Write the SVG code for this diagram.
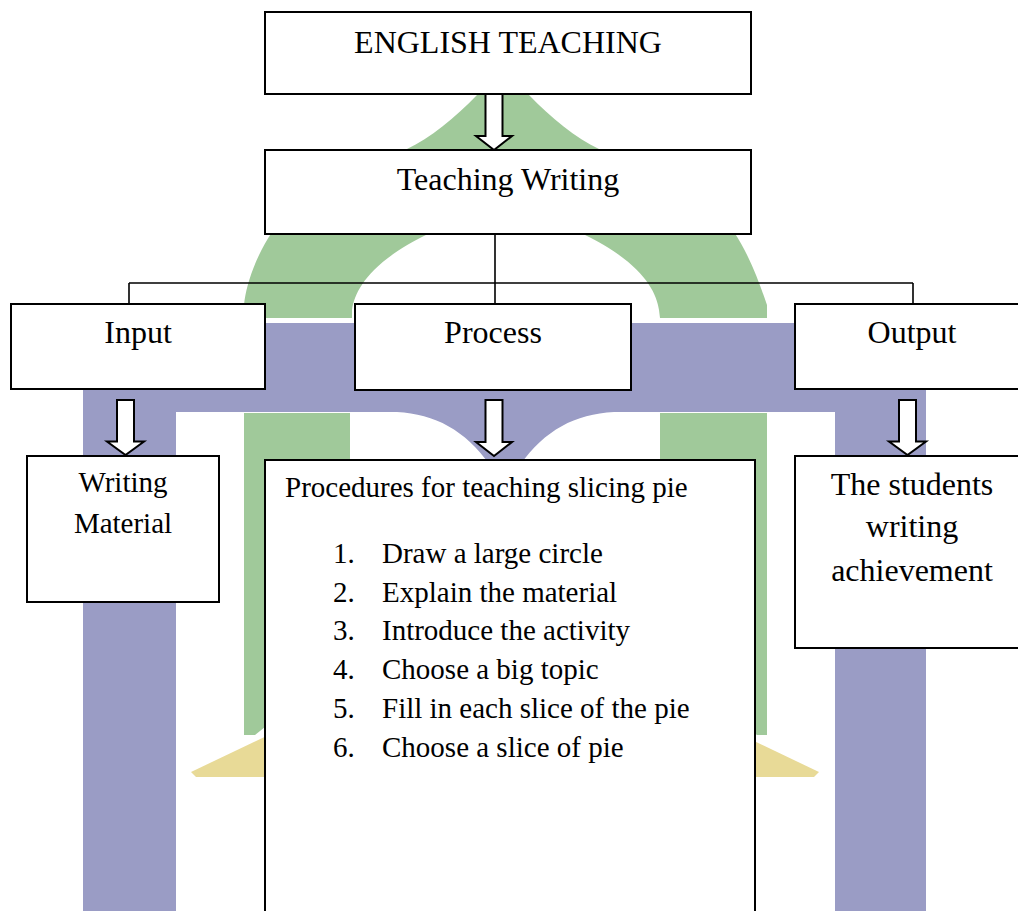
<svg xmlns="http://www.w3.org/2000/svg" width="1018" height="911" viewBox="0 0 1018 911">
<style>
.box{fill:#fff;stroke:#000;stroke-width:2}
.line{fill:none;stroke:#000;stroke-width:1.6}
.arrow{fill:#fff;stroke:#000;stroke-width:2;stroke-linejoin:miter}
.t{font-family:"Liberation Serif","Times New Roman",serif;fill:#000}
.h{font-size:32px;text-anchor:middle}
.m{font-size:29px}
.mc{font-size:29px;text-anchor:middle}
.g{fill:#A0C99A}
.p{fill:#9A9CC5}
.y{fill:#E8DA97}
</style>
<rect width="1018" height="911" fill="#fff"/>
<g id="watermark">
  <path class="g" fill-rule="evenodd" d="M244,318 L244,305 C246,285 255,258 272,232 C300,195 350,170 407,149 C430,138 455,118 477,95 L503,64 L529,95 C551,118 576,138 599,149 C656,170 706,195 734,232 C751,258 760,285 767,305 L767,318 L660,318 L659,310 C656,290 641,262 583,234 C550,215 520,200 505,185 C490,200 460,215 428,234 C370,262 355,290 352,310 L352,318 Z"/>
  <path class="p" d="M83,323 H926 V911 H835 V412 H614 C575,414 545,430 520,465 L505,490 L490,465 C465,430 435,414 397,412 H176 V911 H83 Z"/>
  <path class="g" d="M244,413 H350 V700 L265,727 L255,735 H244 Z"/>
  <path class="g" d="M767,413 H660 V700 L745,727 L757,735 H767 Z"/>
  <path class="y" d="M191,772 L300,720 V777 H196 Z"/>
  <path class="y" d="M819,772 L710,720 V777 H814 Z"/>
</g>
<g id="connectors">
  <path class="line" d="M495,234 V304 M129,283 H913 M129,283 V304 M913,283 V304"/>
  <path class="arrow" d="M485.5,94 H502.5 V136 H512 L494,150 L476,136 H485.5 Z"/>
  <path class="arrow" d="M117,400 H134 V441.5 H144 L125.5,455 L107,441.5 H117 Z"/>
  <path class="arrow" d="M485.5,400 H502.5 V442 H512 L494,456 L476,442 H485.5 Z"/>
  <path class="arrow" d="M899,400 H916 V441.5 H926 L907.5,455 L889,441.5 H899 Z"/>
</g>
<g id="english-teaching">
  <rect class="box" x="265" y="12" width="486" height="82"/>
  <text class="t h" x="508" y="53">ENGLISH TEACHING</text>
</g>
<g id="teaching-writing">
  <rect class="box" x="265" y="150" width="486" height="84"/>
  <text class="t h" x="508" y="190">Teaching Writing</text>
</g>
<g id="input">
  <rect class="box" x="11" y="304" width="254" height="85"/>
  <text class="t h" x="138" y="343">Input</text>
</g>
<g id="process">
  <rect class="box" x="355" y="304" width="276" height="86"/>
  <text class="t h" x="493" y="343">Process</text>
</g>
<g id="output">
  <rect class="box" x="795" y="304" width="240" height="85"/>
  <text class="t h" x="912" y="343">Output</text>
</g>
<g id="writing-material">
  <rect class="box" x="27" y="456" width="192" height="146"/>
  <text class="t mc" x="123" y="492">Writing</text>
  <text class="t mc" x="123" y="533">Material</text>
</g>
<g id="procedures">
  <rect class="box" x="265" y="460" width="490" height="470"/>
  <text class="t m" x="285" y="497">Procedures for teaching slicing pie</text>
  <text class="t m" x="333" y="563">1.</text><text class="t m" x="382" y="563">Draw a large circle</text>
  <text class="t m" x="333" y="602">2.</text><text class="t m" x="382" y="602">Explain the material</text>
  <text class="t m" x="333" y="640">3.</text><text class="t m" x="382" y="640">Introduce the activity</text>
  <text class="t m" x="333" y="679">4.</text><text class="t m" x="382" y="679">Choose a big topic</text>
  <text class="t m" x="333" y="718">5.</text><text class="t m" x="382" y="718">Fill in each slice of the pie</text>
  <text class="t m" x="333" y="757">6.</text><text class="t m" x="382" y="757">Choose a slice of pie</text>
</g>
<g id="students-achievement">
  <rect class="box" x="795" y="456" width="240" height="192"/>
  <text class="t h" x="912" y="495">The students</text>
  <text class="t h" x="912" y="537">writing</text>
  <text class="t h" x="912" y="581">achievement</text>
</g>
</svg>
